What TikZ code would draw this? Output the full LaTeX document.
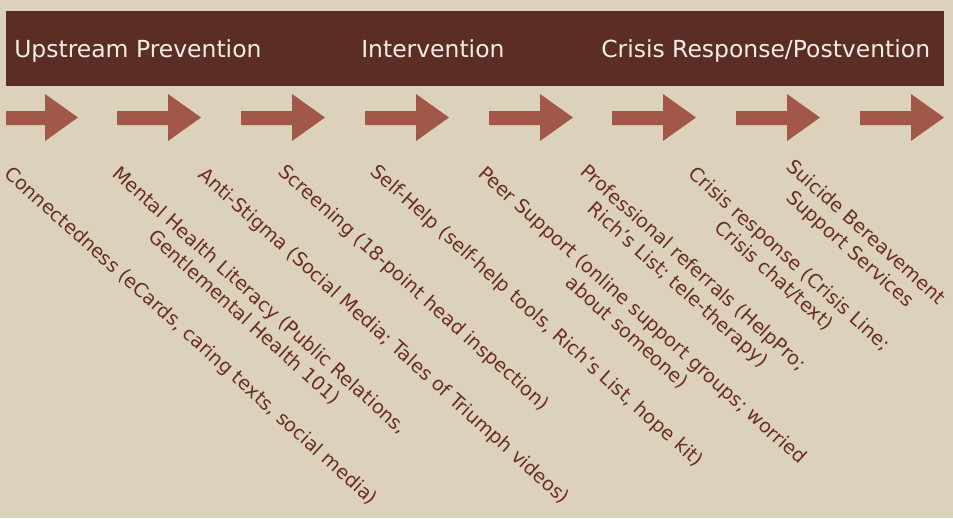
\documentclass[tikz,border=0pt]{standalone}
\usepackage{fontspec}
\setmainfont{DejaVu Sans}
\usepackage{xcolor}
\usepackage{tikz}
\definecolor{paper}{HTML}{DCD1BB}
\definecolor{bannerbrown}{HTML}{5B2D25}
\definecolor{arrowrust}{HTML}{A25849}
\definecolor{labelink}{HTML}{6A2E24}
\definecolor{headink}{HTML}{F4EEE6}

\begin{document}
\begin{tikzpicture}[
  x=0.75pt,y=-0.75pt,
  header/.style={anchor=base west,inner sep=0pt,text=headink,
    font=\fontsize{17.6}{21}\selectfont},
  stage/.style={anchor=north west,inner sep=0pt,rotate=-42,align=center,
    text=labelink,font=\fontsize{14.4}{17.3}\selectfont}
]
  \fill[paper] (0,0) rectangle (953,518);
  \useasboundingbox (0,0) rectangle (953,518);

  % banner with the three phases
  \fill[bannerbrown] (6,11) rectangle (944,86);
  \coordinate (banner) at (6,11);
  \node[header] (hdup) at (14,57) {Upstream Prevention};
  \node[header] (hdint) at (361,57) {Intervention};
  \node[header] (hdcrisis) at (601,57) {Crisis Response/Postvention};

  % row of arrows
  \foreach \s/\h in {6/45,117/168,241/292,365/416,489/540,612/663,736/787,860/911}
    \fill[arrowrust] (\s,111) -- (\h,111) -- (\h,94) -- (\h+33,117.5)
      -- (\h,141) -- (\h,125) -- (\s,125) -- cycle;

  % the stages, slanted
  \node[stage] (lconn) at (13,164) {Connectedness (eCards, caring texts, social media)};
  \node[stage] (lmhl) at (121,164) {Mental Health Literacy (Public Relations,\\Gentlemental Health 101)};
  \node[stage] (lstig) at (207,165) {Anti-Stigma (Social Media; Tales of Triumph videos)};
  \node[stage] (lscreen) at (287,162) {Screening (18-point head inspection)};
  \node[stage] (lself) at (379,162) {Self-Help (self-help tools, Rich’s List, hope kit)};
  \node[stage] (lpeer) at (487,164) {Peer Support (online support groups; worried\\about someone)};
  \node[stage] (lprof) at (589,162) {Professional referrals (HelpPro;\\Rich’s List; tele-therapy)};
  \node[stage] (lcrisis) at (697,164) {Crisis response (Crisis Line;\\Crisis chat/text)};
  \node[stage] (lbereave) at (795,157) {Suicide Bereavement\\Support Services};
\end{tikzpicture}
\end{document}
